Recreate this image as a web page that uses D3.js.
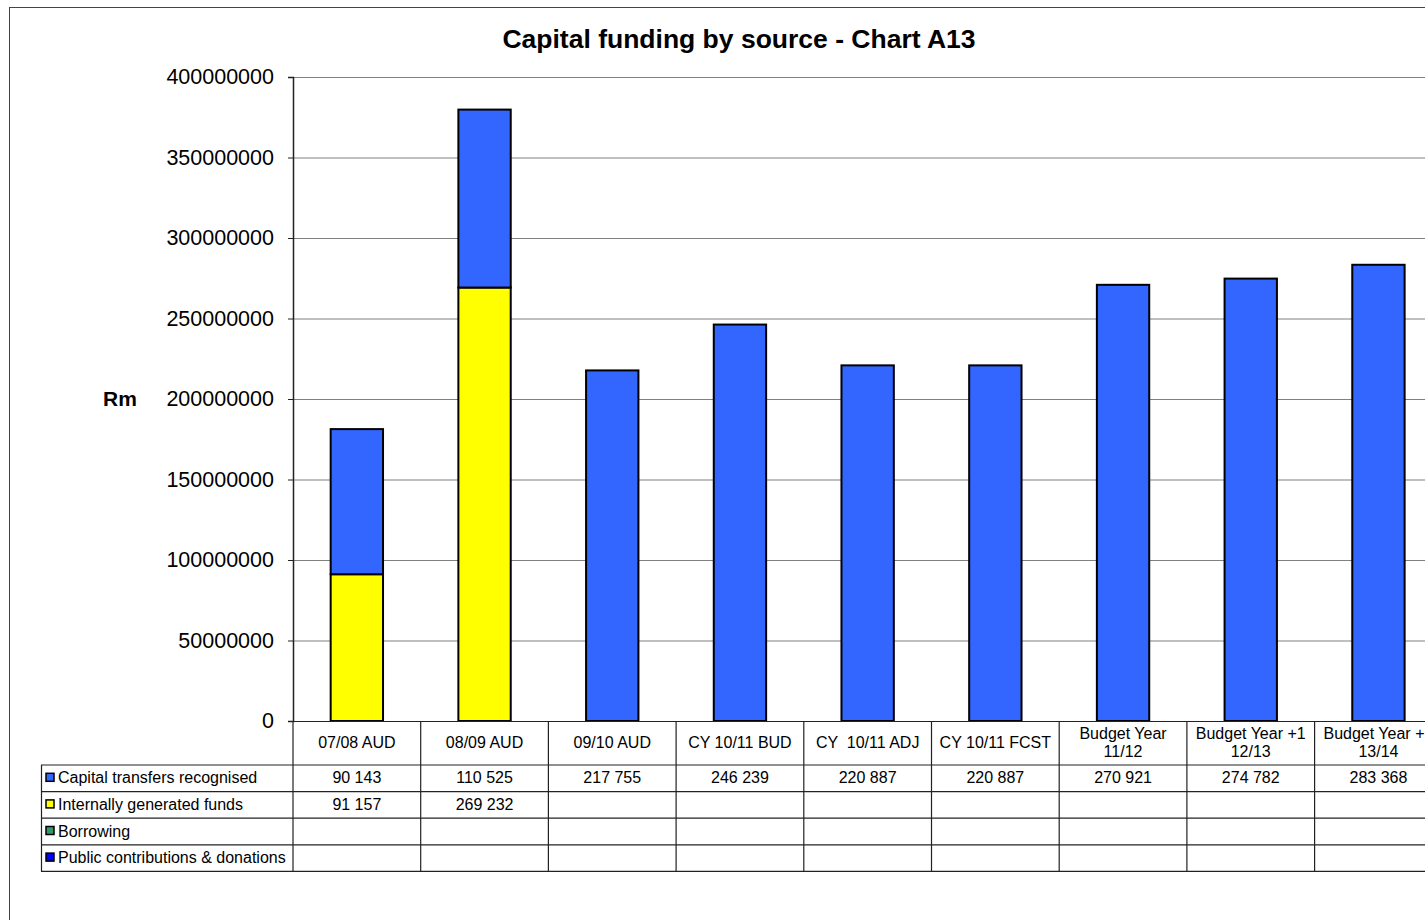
<!DOCTYPE html>
<html>
<head>
<meta charset="utf-8">
<script src="https://cdn.jsdelivr.net/npm/d3@7/dist/d3.min.js"></script>
<style>
  html, body { margin: 0; padding: 0; background: #fff; }
  svg { display: block; font-family: "Liberation Sans", Arial, sans-serif; }
</style>
</head>
<body>
<svg id="chart" width="1425" height="920"></svg>
<script>
// Column categories (header row of the data table)
const categories = [
  ["07/08 AUD"],
  ["08/09 AUD"],
  ["09/10 AUD"],
  ["CY 10/11 BUD"],
  ["CY  10/11 ADJ"],
  ["CY 10/11 FCST"],
  ["Budget Year", "11/12"],
  ["Budget Year +1", "12/13"],
  ["Budget Year +2", "13/14"]
];

// Funding sources, R thousand
const capitalTransfers = [90143, 110525, 217755, 246239, 220887, 220887, 270921, 274782, 283368];
const internalFunds    = [91157, 269232, null, null, null, null, null, null, null];
const borrowing        = [null, null, null, null, null, null, null, null, null];
const publicContrib    = [null, null, null, null, null, null, null, null, null];

const yTicks = [0, 50000000, 100000000, 150000000, 200000000, 250000000, 300000000, 350000000, 400000000];

const series = [
  { name: "Capital transfers recognised", values: capitalTransfers, color: "#3366FF" },
  { name: "Internally generated funds", values: internalFunds, color: "#FFFF00" },
  { name: "Borrowing", values: borrowing, color: "#339966" },
  { name: "Public contributions & donations", values: publicContrib, color: "#0000FF" }
];

// Stacking order from the bottom up
const stackOrder = ["Internally generated funds", "Borrowing", "Public contributions & donations", "Capital transfers recognised"];

const svg = d3.select("#chart");

// Frame
svg.append("rect")
  .attr("x", 9.5).attr("y", 7.5).attr("width", 1440).attr("height", 940)
  .attr("fill", "none").attr("stroke", "#444").attr("stroke-width", 1);

// Title
svg.append("text")
  .attr("x", 739).attr("y", 48)
  .attr("text-anchor", "middle")
  .attr("font-size", 26.5).attr("font-weight", "bold")
  .text("Capital funding by source - Chart A13");

const plotLeft = 293, plotTop = 77, plotBottom = 721;
const colW = 127.7;

const x = d3.scaleBand()
  .domain(d3.range(categories.length))
  .range([plotLeft, plotLeft + colW * categories.length])
  .paddingInner(0).paddingOuter(0);

const y = d3.scaleLinear().domain([0, 400000000]).range([plotBottom, plotTop]);

// Gridlines
svg.append("g")
  .selectAll("line")
  .data(yTicks.slice(1))
  .join("line")
  .attr("x1", plotLeft).attr("x2", 1425)
  .attr("y1", d => y(d) + 0.5).attr("y2", d => y(d) + 0.5)
  .attr("stroke", "#808080").attr("stroke-width", 1.2);

// Stacked bars
const rows = categories.map((c, i) => {
  const r = { i };
  series.forEach(s => { r[s.name] = (s.values[i] || 0) * 1000; });
  return r;
});
const stacked = d3.stack().keys(stackOrder)(rows);
const colorOf = Object.fromEntries(series.map(s => [s.name, s.color]));
const barW = x.bandwidth() * 0.41;

stacked.forEach(layer => {
  svg.append("g")
    .selectAll("rect")
    .data(layer.filter(d => d[1] - d[0] > 0))
    .join("rect")
    .attr("x", d => x(d.data.i) + (x.bandwidth() - barW) / 2)
    .attr("width", barW)
    .attr("y", d => y(d[1]))
    .attr("height", d => y(d[0]) - y(d[1]))
    .attr("fill", colorOf[layer.key])
    .attr("stroke", "#000").attr("stroke-width", 2);
});

// Y axis
const yAxis = d3.axisLeft(y).tickValues(yTicks).tickSize(5).tickPadding(14)
  .tickFormat(d => String(d));
const gy = svg.append("g").attr("transform", `translate(${plotLeft},0)`).call(yAxis);
gy.select(".domain").attr("stroke", "#222").attr("stroke-width", 1.5);
gy.selectAll(".tick line").attr("stroke", "#222");
gy.selectAll(".tick text")
  .attr("font-size", 21.5).attr("fill", "#000")
  .attr("font-family", "Liberation Sans, Arial, sans-serif");

svg.append("text")
  .attr("x", 120).attr("y", 405.5)
  .attr("text-anchor", "middle")
  .attr("font-size", 21).attr("font-weight", "bold")
  .text("Rm");

// Data table
const tableLeft = 41;
const headerBottom = 765;
const rowH = 26.6;
const tableBottom = headerBottom + rowH * series.length;
const grid = svg.append("g").attr("stroke", "#222").attr("stroke-width", 1.2);

// Category axis line
grid.append("line").attr("x1", plotLeft - 5).attr("x2", 1425)
  .attr("y1", plotBottom + 0.5).attr("y2", plotBottom + 0.5);

// Row separators
d3.range(series.length + 1).forEach(k => {
  const yy = headerBottom + rowH * k;
  grid.append("line").attr("x1", tableLeft).attr("x2", 1425)
    .attr("y1", yy).attr("y2", yy);
});
// Column separators
grid.append("line").attr("x1", tableLeft + 0.5).attr("x2", tableLeft + 0.5)
  .attr("y1", headerBottom).attr("y2", tableBottom);
d3.range(categories.length + 1).forEach(k => {
  const xx = plotLeft + colW * k;
  grid.append("line").attr("x1", xx).attr("x2", xx)
    .attr("y1", plotBottom).attr("y2", tableBottom);
});

// Header labels
categories.forEach((lines, i) => {
  const cx = x(i) + x.bandwidth() / 2;
  const t = svg.append("text")
    .attr("text-anchor", "middle")
    .attr("font-size", 16)
    .style("white-space", "pre");
  if (lines.length === 1) {
    t.append("tspan").attr("x", cx).attr("y", 748).text(lines[0]);
  } else {
    t.append("tspan").attr("x", cx).attr("y", 739).text(lines[0]);
    t.append("tspan").attr("x", cx).attr("y", 757).text(lines[1]);
  }
});

// Legend keys, series names and values
const fmt = v => d3.format(",")(v).replace(/,/g, " ");
series.forEach((s, k) => {
  const top = headerBottom + rowH * k;
  const mid = top + rowH / 2;
  svg.append("rect")
    .attr("x", 46).attr("y", mid - 5).attr("width", 8).attr("height", 8)
    .attr("fill", s.color).attr("stroke", "#000").attr("stroke-width", 1.5);
  svg.append("text")
    .attr("x", 58).attr("y", mid + 5)
    .attr("font-size", 16)
    .text(s.name);
  s.values.forEach((v, i) => {
    if (v == null) return;
    svg.append("text")
      .attr("x", x(i) + x.bandwidth() / 2).attr("y", mid + 5)
      .attr("text-anchor", "middle")
      .attr("font-size", 16)
      .text(fmt(v));
  });
});
</script>
</body>
</html>
